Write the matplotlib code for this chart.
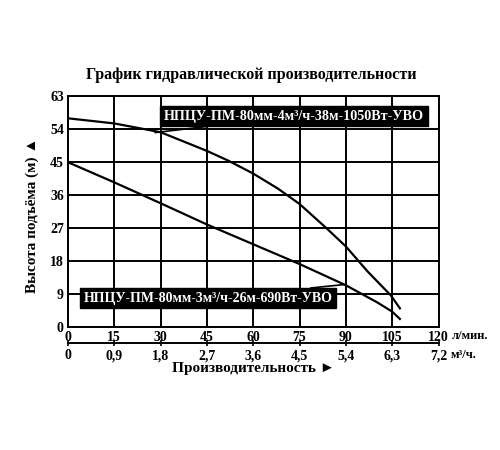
import numpy as np
import matplotlib
matplotlib.use('Agg')
import matplotlib.pyplot as plt

plt.rcParams['font.family'] = ['Liberation Serif', 'DejaVu Serif']
plt.rcParams['font.weight'] = 'bold'

# flow in l/min, head in m
flow_1050 = [0, 15, 30, 45, 52, 60, 68, 75, 83.7, 90, 97, 104.6, 107.5]
head_1050 = [57.0, 55.6, 53.2, 48.1, 45.4, 41.9, 37.8, 33.6, 27.0, 22.0, 15.2, 8.6, 5.1]
flow_690 = [0, 15, 30, 45, 60, 75, 90, 100, 105, 107.5]
head_690 = [45.0, 39.5, 33.8, 28.0, 22.6, 17.2, 11.4, 6.8, 4.2, 2.2]

label_1050 = 'НПЦУ-ПМ-80мм-4м³/ч-38м-1050Вт-УВО'
label_690 = 'НПЦУ-ПМ-80мм-3м³/ч-26м-690Вт-УВО'

x_ticks = [0, 15, 30, 45, 60, 75, 90, 105, 120]
y_ticks = [0, 9, 18, 27, 36, 45, 54, 63]
m3h_ticks = [0, 0.9, 1.8, 2.7, 3.6, 4.5, 5.4, 6.3, 7.2]

fig = plt.figure(figsize=(5, 4.5), dpi=100)
ax = fig.add_axes([0.136, 0.2733, 0.741, 0.5126])

ax.plot(flow_1050, head_1050, color='black', lw=1.6)
ax.plot(flow_690, head_690, color='black', lw=1.6)

ax.set_xlim(0, 120)
ax.set_ylim(0, 63)
ax.set_xticks(x_ticks)
ax.set_yticks(y_ticks)
ax.grid(True, color='black', lw=1.4)
for s in ax.spines.values():
    s.set_linewidth(1.4)
ax.tick_params(length=0, labelsize=10, pad=3)

# secondary flow axis in m3/h
sec = ax.secondary_xaxis(-0.07, functions=(lambda x: x * 0.06, lambda x: x / 0.06))
sec.set_xticks(m3h_ticks)
sec.set_xticklabels([('%g' % v).replace('.', ',') for v in m3h_ticks])
sec.tick_params(direction='inout', length=5, width=1.2, labelsize=10, pad=2)
sec.spines['bottom'].set_linewidth(1.4)

ax.text(124.3, -2.4, 'л/мин.', fontsize=9, fontweight='bold', ha='left', va='center')
ax.text(124.0, -7.6, 'м³/ч.', fontsize=9, fontweight='bold', ha='left', va='center')

fig.text(0.064, 0.522, 'Высота подъёма (м) ▲', fontsize=11, fontweight='bold',
         rotation=90, ha='center', va='center')
fig.text(0.507, 0.182, 'Производительность ►', fontsize=11, fontweight='bold',
         ha='center', va='center')
fig.text(0.503, 0.833, 'График гидравлической производительности', fontsize=11.5,
         fontweight='bold', ha='center', va='center')

box = dict(boxstyle='square,pad=0.25', fc='black', ec='black')
ax.annotate(label_1050, xy=(28.2, 53.1), xytext=(73.2, 57.6), color='white',
            fontsize=10.2, fontweight='bold', ha='center', va='center', bbox=box,
            arrowprops=dict(arrowstyle='-', color='black', lw=1.2, shrinkA=0, shrinkB=0))
ax.annotate(label_690, xy=(89.5, 11.6), xytext=(45.4, 7.8), color='white',
            fontsize=10.0, fontweight='bold', ha='center', va='center', bbox=box,
            arrowprops=dict(arrowstyle='-', color='black', lw=1.2, shrinkA=0, shrinkB=0))

fig.savefig('out.png', dpi=100, facecolor='white')
